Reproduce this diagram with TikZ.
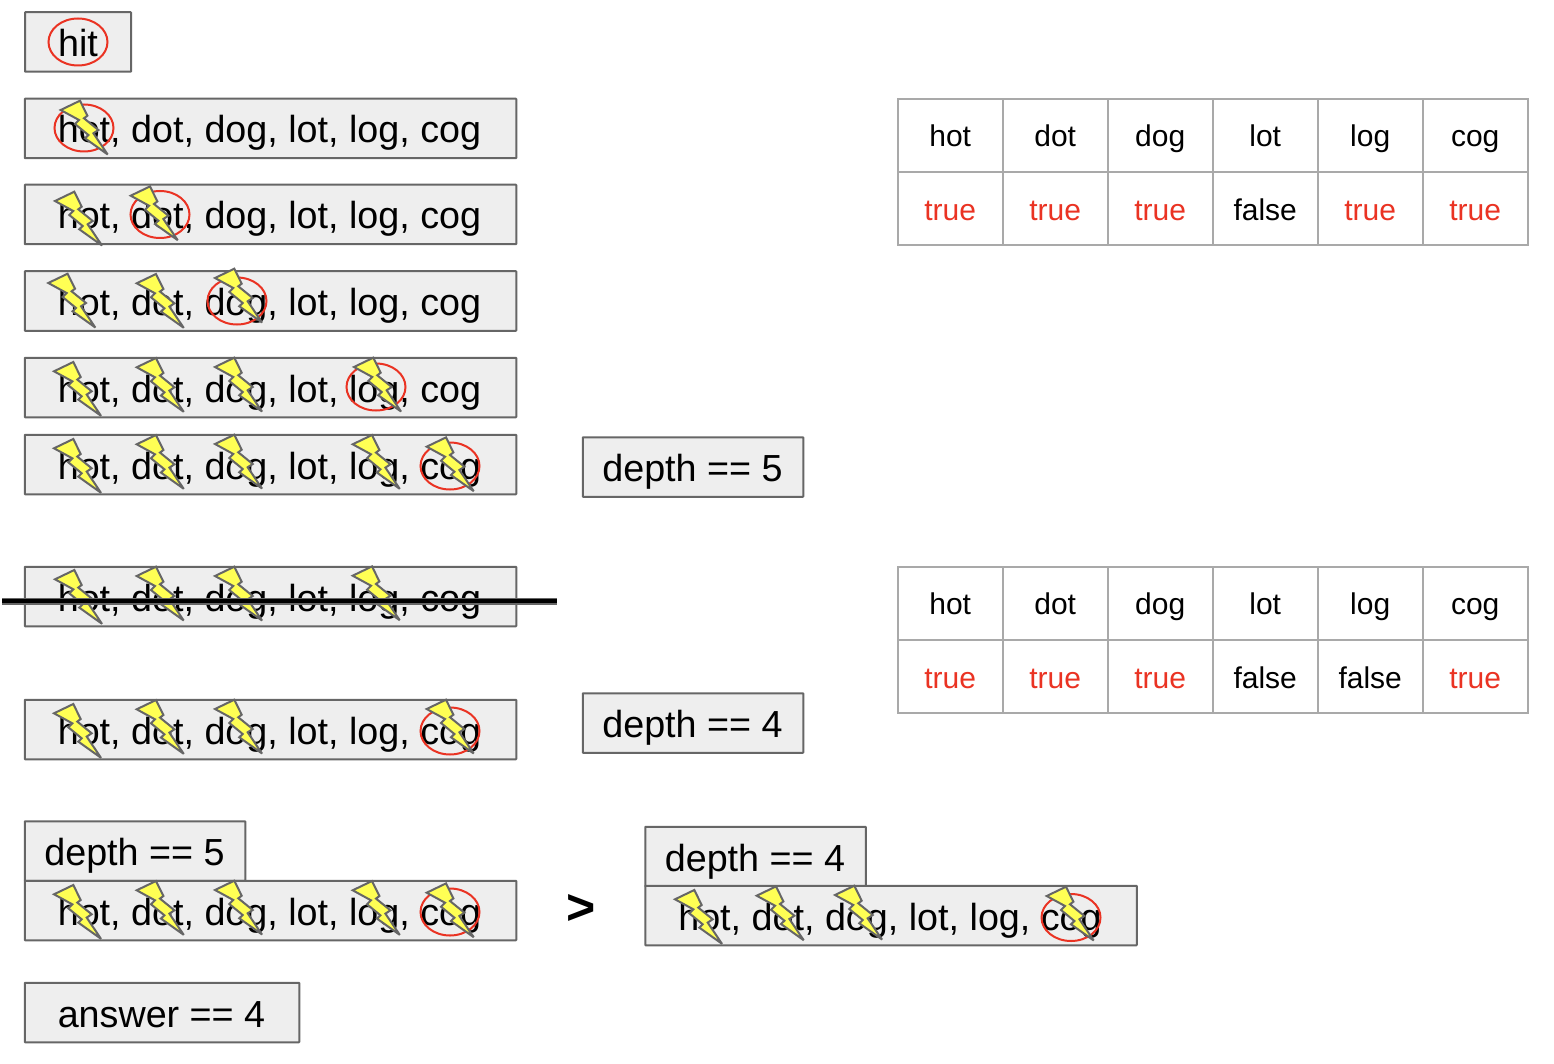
\documentclass[tikz,border=0pt]{standalone}
\usepackage{fontspec}
\setmainfont{Liberation Sans}
\usetikzlibrary{shapes.geometric}
\definecolor{boxfill}{HTML}{EEEEEE}
\definecolor{boxline}{HTML}{666666}
\definecolor{redmark}{HTML}{EA3323}
\definecolor{boltfill}{HTML}{FFFF54}
\definecolor{tabline}{HTML}{A9A9A9}
\newcommand{\rowwords}{hot, dot, dog, lot, log, cog\kern2pt}
\tikzset{
  wordbox/.style={draw=boxline,fill=boxfill,line width=2pt,inner sep=0pt,
    rounded corners=0.5pt,minimum height=59.5pt,text height=29pt,text depth=0pt,
    font=\fontsize{37.7pt}{40pt}\selectfont,text=black},
  longbox/.style={wordbox,minimum width=491.5pt},
  depthbox/.style={wordbox,minimum width=220.5pt},
  hitmark/.style={ellipse,draw=redmark,line width=2pt,inner sep=0pt,
    minimum width=59pt,minimum height=47pt},
  cell/.style={draw=tabline,line width=2pt,inner sep=0pt,minimum width=105pt,
    minimum height=73.5pt,text height=22pt,text depth=0pt,
    font=\fontsize{30pt}{32pt}\selectfont},
  valcell/.style={cell,text height=23.5pt},
  truecell/.style={valcell,text=redmark},
  bolt/.pic={
    \draw[draw=boxline,fill=boltfill,line width=2pt,line join=miter,miter limit=4]
      (0,0) -- (19.3,-9.3) -- (26.7,5.7) -- (23.3,8.3) -- (37.7,20) -- (32.7,23.3)
      -- (47,44.5) -- (24.3,28.3) -- (27.7,25) -- (14.3,14) -- (18.3,10) -- cycle;
  },
}
\begin{document}
\begin{tikzpicture}[x=1pt,y=-1pt]
\useasboundingbox (0,0) rectangle (1554,1064);
% word boxes
\node[wordbox,minimum width=106pt] (hit) at (78,42) {hit};
\node[hitmark] (m0) at (78,42) {};
\node[longbox] (r1) at (270.5,128.5) {\rowwords};
\node[longbox] (r2) at (270.5,214.5) {\rowwords};
\node[longbox] (r3) at (270.5,301) {\rowwords};
\node[longbox] (r4) at (270.5,387.5) {\rowwords};
\node[longbox] (r5) at (270.5,464.5) {\rowwords};
\node[longbox] (r6) at (270.5,596.5) {\rowwords};
\node[longbox] (r7) at (270.5,729.5) {\rowwords};
\node[depthbox] (d5) at (693,467) {depth == 5\kern1pt};
\node[depthbox] (d4) at (693,723) {depth == 4\kern1pt};
\node[depthbox] (d5b) at (135,851) {depth == 5\kern1pt};
\node[longbox] (r8) at (270.5,910.5) {\rowwords};
\node[depthbox] (d4b) at (755.5,856.5) {depth == 4\kern1pt};
\node[longbox] (r9) at (891,915.5) {\rowwords};
\node[wordbox,minimum width=274.5pt] (ans) at (162,1012.5) {answer == 4\kern1pt};
\node[font=\fontsize{50pt}{52pt}\selectfont\bfseries,inner sep=0pt] (gt) at (581.5,909) {>};
% red ellipses
\node[hitmark] (m1) at (84,128) {};
\node[hitmark] (m2) at (160,214.5) {};
\node[hitmark] (m3) at (237,301) {};
\node[hitmark] (m4) at (376,387) {};
\node[hitmark] (m5) at (450,466) {};
\node[hitmark] (m7) at (450,731) {};
\node[hitmark] (m8) at (450,912) {};
\node[hitmark] (m9) at (1071,917.5) {};
% bolts
\foreach \p in {(60.7,110),
  (55,201),(130.7,195.7),
  (48.3,283),(136.7,283.3),(215,278),
  (54,371.3),(136.7,367.3),(215,367),(354,367),
  (54,448.3),(136.7,444.3),(215,444),(352.7,444.3),(426.7,446.7),
  (55,579.3),(136.7,576),(215,576),(352.7,575.7),
  (54,713.3),(136.7,709.3),(215,709),(426.7,709),
  (54,894.3),(136.7,890.3),(215,890),(352.7,890.3),(426.7,892.7),
  (675,899.3),(756.7,895.7),(835,895),(1046.7,896)}
  \pic at \p {bolt};
% struck-out row
\coordinate (sa) at (2,601);
\coordinate (sb) at (557,601);
\draw[boxline,line width=7pt] (sa) -- (sb);
\draw[black,line width=4.3pt] (sa) -- (sb);
% tables
\foreach \w/\t/\c [count=\i from 0] in {hot/true/truecell,dot/true/truecell,dog/true/truecell,lot/false/valcell,log/true/truecell,cog/true/truecell}{
  \node[cell] (ta\i) at (950.2+105*\i,135.5) {\w};
  \node[\c] (tb\i) at (950.2+105*\i,208.5) {\t};
}
\foreach \w/\t/\c [count=\i from 0] in {hot/true/truecell,dot/true/truecell,dog/true/truecell,lot/false/valcell,log/false/valcell,cog/true/truecell}{
  \node[cell] (tc\i) at (950.2+105*\i,603.5) {\w};
  \node[\c] (td\i) at (950.2+105*\i,676.5) {\t};
}
\end{tikzpicture}
\end{document}
